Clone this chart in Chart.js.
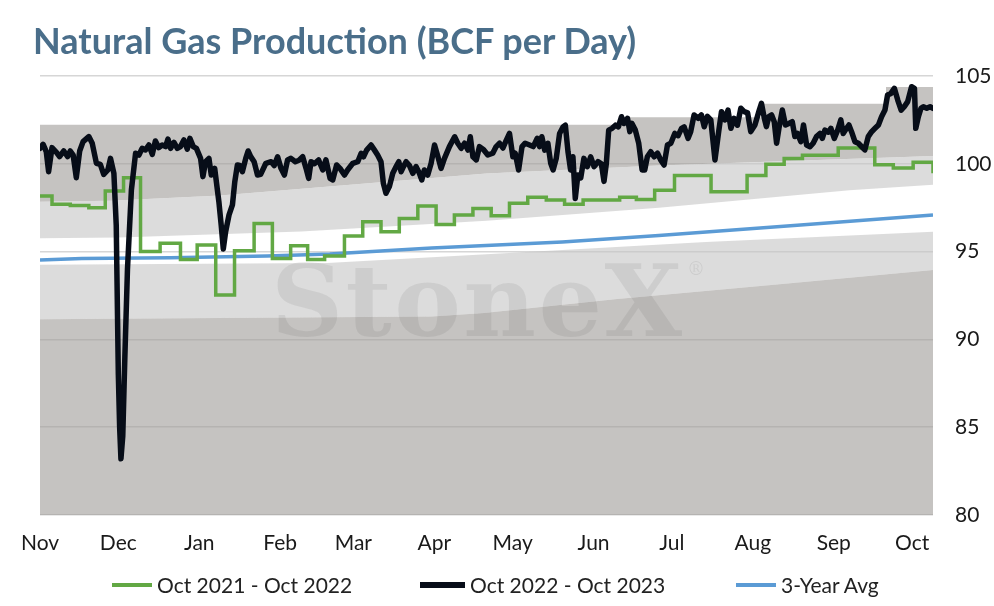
<!DOCTYPE html>
<html>
<head>
<meta charset="utf-8">
<script src="https://cdn.jsdelivr.net/npm/chart.js@4.4.0/dist/chart.umd.min.js"></script>
<style>
  html, body { margin: 0; padding: 0; background: #fff; }
  #wrap { position: relative; width: 994px; height: 606px; overflow: hidden; font-family: Lato, "Open Sans", sans-serif; }
  #title { position: absolute; left: 33px; top: 18px; font-size: 36px; font-weight: 700; color: #4a6e8a; line-height: 44px; white-space: nowrap; }
  #legend { position: absolute; left: 0; top: 572px; width: 994px; height: 26px; font-size: 21px; color: #222; line-height: 26px; white-space: nowrap; }
  .item { position: absolute; top: 0; display: flex; align-items: center; }
  .sw { margin-right: 5px; }
  canvas { position: absolute; left: 0; top: 0; }
</style>
</head>
<body>
<div id="wrap">
  <canvas id="chart"></canvas>
  <div id="title">Natural Gas Production (BCF per Day)</div>
  <div id="legend"></div>
</div>
<script>
// 軸ラベル
const monthLabels = ['Nov', 'Dec', 'Jan', 'Feb', 'Mar', 'Apr', 'May', 'Jun', 'Jul', 'Aug', 'Sep', 'Oct'];
const monthDays = [0, 30, 61, 92, 120, 151, 181, 212, 242, 273, 304, 334];
const yMin = 80, yMax = 105, yStep = 5;

// Oct 2022 - Oct 2023 (days since Nov 1)
const curDays = [0, 1.2, 2.4, 3.3, 4.6, 6.3, 7.5, 9.1, 10.6, 11.6, 12.7, 13.9, 15.2, 16.5, 18.7, 20, 21.6, 23.1, 24.4, 26, 27, 28.3,
  29.2, 30, 30.5, 31, 31.7, 32.5, 33.5, 35, 36.6, 37.9, 39.1, 40.4, 41.7, 43, 44.2, 45.5, 46.8, 48.1, 49, 50, 51.3, 52.6, 53.8,
  55.1, 56.4, 57.4, 58.7, 59.9, 61.5, 62.4, 63.4, 64.7, 65.6, 66.9, 68.5, 69.4, 70.2, 71.1, 72.4, 73.7, 74.6, 75.6, 76.5, 77.5,
  78.8, 79.7, 80.7, 82, 83.3, 84.5, 86.5, 88.5, 89.7, 91, 92.3, 93.6, 94.8, 96.1, 97.8, 99.2, 100.6, 101.9, 102.9, 103.8, 105.1,
  106.7, 108.3, 109.5, 111.1, 112.1, 113.6, 114.9, 116.6, 117.8, 119.8, 121.7, 123, 123.9, 125.1, 126.8, 128.1, 129.3, 130.6,
  131.5, 132.5, 133.8, 135.1, 136.4, 137.4, 138.3, 139.2, 140.2, 141.5, 142.8, 144, 145.3, 146.2, 147.2, 148.5, 149.8, 151.1,
  152.4, 153.6, 154.9, 156.8, 158.8, 160, 161.3, 162.6, 163.9, 164.8, 165.8, 167.1, 168.3, 169.9, 171.5, 173.4, 174.7, 176,
  177.3, 178.6, 179.8, 181.1, 182, 183.3, 184.6, 185.8, 187.5, 188.9, 190.4, 191.3, 192.2, 193.3, 194.5, 195.6, 196.5, 197.7,
  199, 200.3, 201.2, 202.2, 203.2, 204.1, 205, 206, 207.1, 208.3, 209.6, 210.9, 212.2, 213.7, 215, 216, 216.9, 217.8, 219.1,
  220.4, 221.5, 222.7, 223.7, 225, 225.9, 226.7, 228, 229.3, 230.6, 231.6, 232.6, 233.9, 235.2, 236.5, 237.7, 239, 240.3, 241.6,
  243.1, 244.4, 245.7, 246.7, 248.2, 249.2, 250.5, 252.1, 253.3, 254.4, 255.6, 256.9, 258.5, 260, 261, 262.3, 263.5, 264.6,
  265.8, 267.1, 268.4, 269.7, 271, 272.2, 273.8, 275.3, 276.3, 277.4, 278.2, 279.1, 280.2, 281.2, 282.1, 283, 284.3, 285.5,
  286.8, 288.1, 289.1, 290.1, 291.4, 292.4, 293.6, 294.9, 296.1, 297.4, 298.7, 299.6, 300.6, 301.9, 302.9, 304.2, 305.5, 306.7,
  307.6, 308.9, 309.8, 310.8, 312.1, 313.4, 314.7, 315.9, 317.2, 318.5, 319.8, 321.1, 322.3, 323.6, 324.6, 325.9, 327.2, 328.5,
  329.8, 331, 332.3, 333.8, 334.9, 335.4, 336.4, 337.4, 338.3, 339.6, 340.9, 342];
const curVals = [100.88, 101.11, 100.69, 99.55, 100.92, 100.65, 100.41, 100.73, 100.41, 100.73, 100.5, 99.21, 100.73, 101.26, 101.55, 101.17, 100.03, 99.97, 99.4, 99.65, 100.31, 99.46,
  96.5, 88, 85, 83.2, 84.5, 89, 94, 98.5, 100.6, 100.5, 100.88, 100.79, 101.07, 100.54, 101.3, 100.92, 101.07, 100.98, 101.41, 100.88, 101.22, 100.88, 100.98,
  101.36, 100.84, 101.45, 100.98, 100.88, 100.31, 99.27, 100.12, 100.31, 99.36, 99.74, 97.85, 96.5, 95.15, 96.14, 97.09, 97.66, 98.98, 99.93, 99.9, 99.55,
  100.31, 100.73, 100.41, 100.12, 99.36, 99.4, 100.03, 100.12, 99.9, 100.4, 99.74, 99.36, 100.22, 100.31, 100.12, 100.2, 100.4, 99.74, 99.17, 100.12, 100.0,
  100.22, 99.65, 100.22, 99.17, 99.08, 99.93, 99.74, 99.36, 99.65, 100.03, 100.12, 100.6, 100.4, 100.78, 101.07, 100.78, 100.5, 100.12,
  98.89, 98.32, 98.7, 99.46, 99.84, 100.12, 99.55, 99.84, 100.12, 99.9, 99.46, 99.84, 99.46, 99.08, 99.65, 99.36, 100.03, 101.07,
  100.4, 99.74, 100.31, 100.98, 101.54, 101.17, 100.88, 101.17, 100.78, 101.54, 100.4, 100.22, 100.98, 100.8, 100.5, 100.6, 100.98, 101.17,
  100.9, 101.35, 101.73, 100.4, 100.6, 99.65, 100.98, 101.17, 101.07, 100.98, 101.45, 100.98, 101.54, 100.78, 101.17, 100.03, 99.65, 100.3,
  101.73, 102.1, 102.2, 100.7, 99.65, 100.4, 98.03, 99.36, 99.2, 100.31, 99.84, 100.4, 99.84, 100.12, 100.0, 99.0, 100.03, 101.92, 102.02,
  102.2, 102.1, 102.68, 102.3, 102.59, 101.83, 102.3, 101.92, 101.17, 99.65, 99.65, 100.4, 100.69, 100.4, 100.6, 100.22, 99.93, 101.07, 101.17,
  101.73, 101.6, 102.02, 102.1, 101.45, 101.83, 102.78, 102.59, 102.78, 102.11, 102.7, 102.5, 100.22, 101.92, 102.97, 102.5, 103.06, 102.02,
  102.59, 102.2, 103.16, 102.97, 102.9, 101.83, 102.21, 102.97, 103.44, 102.59, 102.12, 102.69, 102.78, 102.4, 101.17, 102.02, 103.06, 102.21,
  102.3, 102.4, 101.55, 101.73, 101.26, 102.21, 101.07, 100.97, 101.17, 101.55, 101.73, 101.45, 101.92, 101.8, 102.02, 101.45, 101.92, 102.5,
  101.73, 102.02, 102.21, 101.83, 101.26, 101.17, 100.97, 100.79, 101.55, 101.83, 102.02, 102.21, 102.68, 103.06, 103.92, 104.01, 104.3, 103.63,
  103.06, 103.25, 103.54, 104.39, 104.3, 102.02, 102.68, 103.16, 103.25, 103.16, 103.25, 103.16];

// Oct 2021 - Oct 2022 (step changes)
const prevDays = [0, 4.6, 11.6, 18.7, 25, 32, 38.5, 46, 53.8, 60.2, 67.3, 74.5, 82, 89, 96, 102.5, 109, 116.6, 123.6, 130.6, 137.6,
  144.7, 151.7, 158.7, 165.8, 172.8, 179.8, 186.8, 193.9, 200.9, 208, 222, 228.4, 235.4, 243, 257, 270.8, 278, 285, 292, 305.7,
  319.7, 326.8, 334.4, 342];
const prevVals = [98.17, 97.69, 97.62, 97.5, 98.45, 99.21, 95.0, 95.47, 94.55, 95.38, 92.53, 95.05, 96.6, 94.6, 95.34, 94.55, 94.75, 95.89, 96.7, 96.13, 96.89,
  97.6, 96.55, 97.08, 97.46, 97.04, 97.75, 98.1, 97.94, 97.7, 97.94, 98.1, 97.96, 98.5, 99.33, 98.41, 99.34, 99.98, 100.3, 100.48, 100.9,
  99.95, 99.76, 100.09, 99.46];

// 3-Year Avg
const avgDays = [0, 16, 50, 87, 111, 150, 200, 237, 290, 342];
const avgVals = [94.52, 94.6, 94.65, 94.75, 94.86, 95.2, 95.55, 95.92, 96.5, 97.08];

// range bands (edges from bottom to top)
const bandADays = [0, 150, 170, 221, 280, 342];
const bandAVals = [91.15, 91.3, 91.5, 92.3, 93.1, 93.95];
const bandBDays = [0, 110, 171, 255, 342];
const bandBVals = [94.25, 94.35, 94.85, 95.55, 96.13];
const bandCDays = [0, 30, 100, 171, 237, 310, 342];
const bandCVals = [95.76, 95.8, 96.15, 96.75, 97.5, 98.5, 98.8];
const bandDDays = [0, 27, 69, 171, 237, 342];
const bandDVals = [97.84, 97.9, 98.2, 99.45, 99.9, 100.45];
const bandEDays = [0, 223, 223, 277, 277, 324, 324, 342];
const bandEVals = [102.22, 102.22, 102.65, 102.65, 103.42, 103.42, 104.37, 104.37];

const xy = (days, vals) => days.map((d, i) => ({ x: d, y: vals[i] }));

function band(days, vals, fill, color) {
  return {
    data: xy(days, vals),
    fill: fill,
    backgroundColor: color,
    borderColor: 'rgba(0,0,0,0)',
    borderWidth: 0,
    pointRadius: 0
  };
}

const DARK = 'rgba(158,155,152,0.6)';
const LIGHT = 'rgba(197,197,197,0.6)';

// 凡例の並び順
const series = [
  { label: 'Oct 2021 - Oct 2022', color: '#62a844', width: 3.5, left: 112, sw: 40 },
  { label: 'Oct 2022 - Oct 2023', color: '#070d18', width: 5.5, left: 420, sw: 45 },
  { label: '3-Year Avg', color: '#5b9bd5', width: 3.5, left: 736, sw: 40 }
];

// 透かし
const watermark = {
  id: 'watermark',
  afterDatasetDraw(chart, args) {
    if (args.index !== 3) return;
    const ctx = chart.ctx;
    const a = chart.chartArea;
    ctx.save();
    ctx.fillStyle = 'rgba(40,40,40,0.08)';
    ctx.font = 'bold 100px "DejaVu Serif"';
    const w = ctx.measureText('StoneX').width;
    ctx.letterSpacing = ((411 - w) / 5) + 'px';
    ctx.fillText('StoneX', a.left + 231, a.top + 260);
    ctx.letterSpacing = '0px';
    ctx.font = '18px "DejaVu Serif"';
    ctx.fillText('\u00AE', a.left + 647, a.top + 199);
    ctx.restore();
  }
};

new Chart(document.getElementById('chart'), {
  type: 'line',
  data: {
    datasets: [
      { data: xy(curDays, curVals), borderColor: series[1].color, borderWidth: series[1].width, pointRadius: 0, fill: false, borderJoinStyle: 'round', borderCapStyle: 'round' },
      { data: xy(prevDays, prevVals), borderColor: series[0].color, borderWidth: series[0].width, pointRadius: 0, fill: false, stepped: true },
      { data: xy(avgDays, avgVals), borderColor: series[2].color, borderWidth: series[2].width, pointRadius: 0, fill: false },
      band(bandADays, bandAVals, 'start', DARK),
      band(bandBDays, bandBVals, '-1', LIGHT),
      band(bandCDays, bandCVals, false, 'rgba(0,0,0,0)'),
      band(bandDDays, bandDVals, '-1', LIGHT),
      band(bandEDays, bandEVals, '-1', DARK)
    ]
  },
  options: {
    responsive: true,
    maintainAspectRatio: false,
    animation: false,
    layout: { padding: { top: 76, left: 40, right: 0, bottom: 47 } },
    plugins: {
      legend: { display: false },
      tooltip: { enabled: false }
    },
    scales: {
      x: {
        type: 'linear',
        min: 0,
        max: 342,
        grid: { display: false, drawTicks: false },
        border: { display: false },
        afterBuildTicks: scale => { scale.ticks = monthDays.map(v => ({ value: v })); },
        afterFit: scale => { scale.height = 44; },
        ticks: {
          autoSkip: false,
          maxRotation: 0,
          padding: 16,
          color: '#1a1a1a',
          font: { family: 'Lato', size: 21 },
          callback: (v, i) => monthLabels[i]
        }
      },
      y: {
        position: 'right',
        min: yMin,
        max: yMax,
        grid: { color: '#d6d6d6', lineWidth: 1.5, drawTicks: false },
        border: { display: false },
        afterFit: scale => { scale.width = 61; },
        ticks: {
          stepSize: yStep,
          padding: 22,
          color: '#1a1a1a',
          font: { family: 'Lato', size: 21 }
        }
      }
    }
  },
  plugins: [watermark]
});

// 凡例
document.getElementById('legend').innerHTML = series.map(s =>
  `<div class="item" style="left:${s.left}px"><div class="sw" style="width:${s.sw}px;height:${s.width}px;background:${s.color}"></div><span>${s.label}</span></div>`
).join('');
</script>
</body>
</html>
